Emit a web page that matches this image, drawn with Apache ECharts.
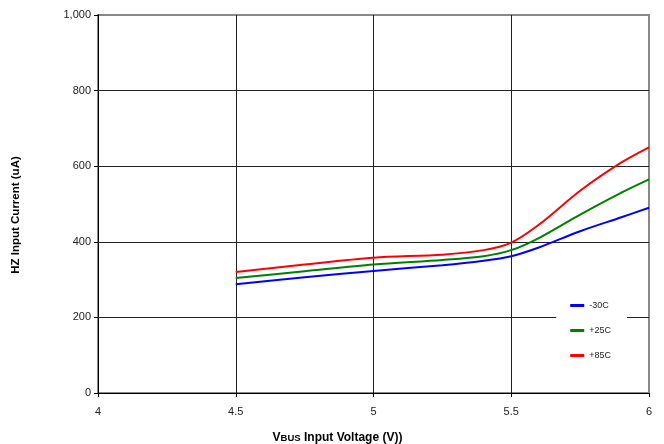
<!DOCTYPE html>
<html>
<head>
<meta charset="utf-8">
<script src="https://cdn.jsdelivr.net/npm/echarts@6/dist/echarts.min.js"></script>
<style>html,body{margin:0;padding:0;background:#fff}#c{width:664px;height:444px}</style>
</head>
<body>
<div id="c"></div>
<script>
var voltages = [4.5, 4.75, 5, 5.25, 5.4, 5.5, 5.6, 5.75, 5.9, 6];
var minus30C = [288, 306, 323, 338, 350, 362, 385, 428, 465, 490];
var plus25C  = [304, 322, 340, 352, 362, 378, 410, 472, 530, 565];
var plus85C  = [320, 340, 358, 366, 378, 398, 445, 535, 610, 650];
var seriesNames = ['-30C', '+25C', '+85C'];
var seriesColors = ['#0000ff', '#008000', '#ff0000'];
var yTicks = [0, 200, 400, 600, 800, 1000];

function pairs(vals){ return voltages.map(function(v,i){ return [v, vals[i]]; }); }
var allVals = [minus30C, plus25C, plus85C];

var chart = echarts.init(document.getElementById('c'));
chart.setOption({
  animation: false,
  textStyle: {fontFamily: 'Liberation Sans, Arial, sans-serif'},
  grid: {left: 98, right: 15, top: 15, bottom: 51, show: true, borderColor: '#888', borderWidth: 2,
         containLabel: false, outerBoundsMode: 'none'},
  legend: {
    orient: 'vertical', right: 37, top: 291,
    backgroundColor: '#fff', padding: [10, 16, 10, 14],
    itemGap: 16, itemWidth: 14, itemHeight: 3, icon: 'rect',
    textStyle: {fontSize: 9, color: '#222', fontFamily: 'Liberation Sans, Arial, sans-serif'},
    data: seriesNames
  },
  xAxis: {
    type: 'value', min: 4, max: 6, interval: 0.5,
    name: '{a|V}{b|BUS}{a| Input Voltage (V))}', nameLocation: 'middle', nameGap: 39,
    nameTextStyle: {padding: [0, 72, 0, 0], rich: {a: {fontSize: 12, fontWeight: 'bold', color: '#000'}, b: {fontSize: 9.5, fontWeight: 'bold', color: '#000'}}},
    axisLine: {lineStyle: {color: '#000', width: 1}},
    axisTick: {show: true, length: 4, lineStyle: {color: '#000'}},
    axisLabel: {fontSize: 11, color: '#222', margin: 13},
    splitLine: {show: true, lineStyle: {color: ['#222', '#222', '#222', '#222', '#888'], width: 1}}
  },
  yAxis: {
    type: 'value', min: 0, max: 1000, interval: 200,
    name: 'HZ Input Current (uA)', nameLocation: 'middle', nameGap: 76,
    nameTextStyle: {fontSize: 11.5, fontWeight: 'bold', color: '#000', padding: [0, 22, 0, 0]},
    axisLine: {show: true, lineStyle: {color: '#000', width: 1}},
    axisTick: {show: true, length: 4, lineStyle: {color: '#000'}},
    axisLabel: {fontSize: 11, color: '#222', margin: 7,
      formatter: function(v){ return v.toLocaleString('en-US'); }},
    splitLine: {show: true, lineStyle: {color: ['#222', '#222', '#222', '#222', '#222', '#888'], width: 1}}
  },
  series: seriesNames.map(function(n, i){
    return {
      name: n, type: 'line', smooth: 0.3, showSymbol: false, symbol: 'none',
      data: pairs(allVals[i]),
      lineStyle: {color: seriesColors[i], width: 2},
      itemStyle: {color: seriesColors[i]}
    };
  })
});
</script>
</body>
</html>
